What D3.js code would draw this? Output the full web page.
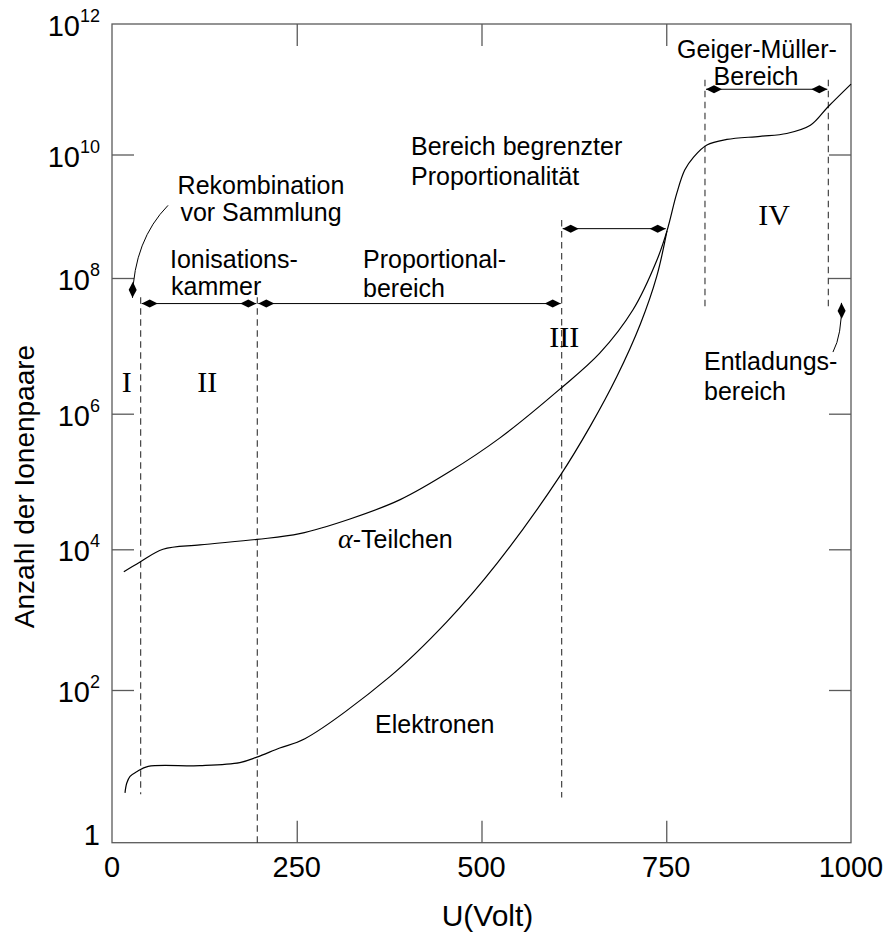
<!DOCTYPE html>
<html><head><meta charset="utf-8">
<script src="https://cdn.jsdelivr.net/npm/d3@7"></script>
<style>
body{margin:0;background:#fff;}
svg text{font-family:"Liberation Sans",Arial,sans-serif;fill:#000;}
</style></head><body>
<svg id="chart" width="885" height="933"></svg>
<script>
// ---------- data ----------
const xTicks = [0, 250, 500, 750, 1000];
const yTicks = [1, 1e2, 1e4, 1e6, 1e8, 1e10, 1e12];
const yExponents = [0, 2, 4, 6, 8, 10, 12];

const alphaVolt  = [16, 38, 69, 119, 196, 254, 322, 390, 457, 525, 606, 660, 705, 737, 751, 764, 775, 787, 805, 832, 877, 913, 945, 969, 1000];
const alphaCount = [4.8e3, 6.6e3, 1.0e4, 1.16e4, 1.4e4, 1.7e4, 2.8e4, 5.4e4, 1.4e5, 4.4e5, 2.3e6, 7.8e6, 3.4e7, 1.9e8, 5.8e8, 2.3e9, 5.6e9, 9.1e9, 1.4e10, 1.7e10, 1.9e10, 2.1e10, 2.8e10, 5.4e10, 1.2e11];

const elecVolt  = [17.6, 19.9, 24.4, 33.4, 49, 119, 173, 196, 227, 261, 376, 453, 521, 606, 647, 683, 715, 737, 751];
const elecCount = [4.5, 6.0, 7.4, 8.5, 10, 10.2, 11.2, 13.2, 17.4, 23, 155, 930, 6.3e3, 1.2e5, 6.5e5, 3.5e6, 2.1e7, 1.05e8, 5.8e8];

// region boundaries (dashed lines)
const boundaryVolt   = [38.8, 196.6, 608.5, 802.4, 969.3];
const boundaryTop    = [5.2e7, 5.2e7, 8.7e8, 1.4e11, 1.4e11];
const boundaryBottom = [4.3, 1, 3.9, 3.8e7, 3.8e7];

// double-headed range arrows
const rangeFrom  = [38.8, 196.6, 608.5, 802.4];
const rangeTo    = [196.6, 608.5, 750.6, 969.3];
const rangeLevel = [4.2e7, 4.2e7, 6.3e8, 1e11];

// region numerals
const regionNames = ["I", "II", "III", "IV"];

// ---------- layout ----------
const svg = d3.select("#chart");
const x = d3.scaleLinear().domain([0, 1000]).range([112, 851]);
const y = d3.scaleLog().domain(yTicks).range([842.7, 690, 549.3, 413.7, 278, 154.5, 24]);

const frameColor = "#5a5a5a";

// defs: arrow head
const defs = svg.append("defs");
defs.append("marker").attr("id", "head")
  .attr("viewBox", "-17 -5 18 10").attr("refX", 0).attr("refY", 0)
  .attr("markerWidth", 18).attr("markerHeight", 10)
  .attr("markerUnits", "userSpaceOnUse")
  .attr("orient", "auto-start-reverse")
  .append("path").attr("d", "M0,0 L-8,-4 L-16,0 L-8,4 Z").attr("fill", "#000");

// frame
svg.append("rect")
  .attr("x", x(0)).attr("y", y(1e12))
  .attr("width", x(1000) - x(0)).attr("height", y(1) - y(1e12))
  .attr("fill", "none").attr("stroke", frameColor).attr("stroke-width", 1.3);

// ticks via axes (inward)
const innerX = xTicks.slice(1, -1), innerY = yTicks.slice(1, -1);
const axes = [
  [d3.axisBottom(x).tickValues(innerX), `translate(0,${y(1)})`],
  [d3.axisTop(x).tickValues(innerX), `translate(0,${y(1e12)})`],
  [d3.axisLeft(y).tickValues(innerY), `translate(${x(0)},0)`],
  [d3.axisRight(y).tickValues(innerY), `translate(${x(1000)},0)`]
];
axes.forEach(([ax, tr]) => {
  const g = svg.append("g").attr("transform", tr)
    .call(ax.tickSize(-22).tickFormat(""));
  g.select(".domain").remove();
  g.selectAll("line").attr("stroke", frameColor).attr("stroke-width", 1.3);
});

// x tick labels
svg.append("g").selectAll("text").data(xTicks).join("text")
  .attr("x", d => x(d)).attr("y", y(1) + 34)
  .attr("text-anchor", "middle").attr("font-size", 29)
  .text(d => d);

// y tick labels with superscripts
const yl = svg.append("g").selectAll("text").data(yTicks).join("text")
  .attr("x", x(0) - 12)
  .attr("y", (d, i) => y(d) + (yExponents[i] === 0 ? 2 : 12))
  .attr("text-anchor", "end").attr("font-size", 29);
yl.each(function(d, i) {
  const t = d3.select(this);
  if (yExponents[i] === 0) { t.text("1"); return; }
  t.append("tspan").text("10");
  t.append("tspan").attr("dy", -14).attr("font-size", 18).text(yExponents[i]);
});

// axis titles
svg.append("text").attr("x", 487.5).attr("y", 925.7)
  .attr("text-anchor", "middle").attr("font-size", 30).text("U(Volt)");
svg.append("text").attr("transform", "translate(33.5,486.5) rotate(-90)")
  .attr("text-anchor", "middle").attr("font-size", 28).text("Anzahl der Ionenpaare");

// dashed boundaries
svg.append("g").selectAll("line").data(boundaryVolt).join("line")
  .attr("x1", d => x(d)).attr("x2", d => x(d))
  .attr("y1", (d, i) => y(boundaryTop[i])).attr("y2", (d, i) => y(boundaryBottom[i]))
  .attr("stroke", "#333").attr("stroke-width", 1.1).attr("stroke-dasharray", "6.5,4.5");

// range arrows
svg.append("g").selectAll("line").data(rangeFrom).join("line")
  .attr("x1", d => x(d) + 1).attr("x2", (d, i) => x(rangeTo[i]) - 1)
  .attr("y1", (d, i) => y(rangeLevel[i])).attr("y2", (d, i) => y(rangeLevel[i]))
  .attr("stroke", "#000").attr("stroke-width", 1)
  .attr("marker-start", "url(#head)").attr("marker-end", "url(#head)");

// curved leader arrows
const leaders = [
  [[75.8, 1.5e9], [29.8, 4.1e8], [27.7, 5.1e7]],
  [[975.6, 8.1e6], [987.8, 1.45e7], [987.1, 4.3e7]]
];
svg.append("g").selectAll("path").data(leaders).join("path")
  .attr("d", d => `M${x(d[0][0])},${y(d[0][1])} Q${x(d[1][0])},${y(d[1][1])} ${x(d[2][0])},${y(d[2][1])}`)
  .attr("fill", "none").attr("stroke", "#000").attr("stroke-width", 1)
  .attr("marker-end", "url(#head)");

// curves
const line = d3.line().x(d => x(d[0])).y(d => y(d[1])).curve(d3.curveCatmullRom.alpha(0.5));
const alphaData = alphaVolt.map((v, i) => [v, alphaCount[i]]);
const elecData = elecVolt.map((v, i) => [v, elecCount[i]]);
svg.append("path").datum(alphaData).attr("d", line)
  .attr("fill", "none").attr("stroke", "#000").attr("stroke-width", 1.2);
svg.append("path").datum(elecData).attr("d", line)
  .attr("fill", "none").attr("stroke", "#000").attr("stroke-width", 1.2);

// region numerals
const numeralPos = [[126.7, 391.7], [207.3, 391.7], [564.3, 346.7], [774, 225]];
svg.append("g").selectAll("text").data(regionNames).join("text")
  .attr("x", (d, i) => numeralPos[i][0]).attr("y", (d, i) => numeralPos[i][1])
  .attr("text-anchor", "middle").attr("font-size", 30)
  .style("font-family", "'Liberation Serif','Times New Roman',serif")
  .text(d => d);

// annotation texts
const notes = [
  ["Rekombination", 261, 193.5, "middle"], ["vor Sammlung", 261, 221, "middle"],
  ["Ionisations-", 170, 268, "start"], ["kammer", 171, 295, "start"],
  ["Proportional-", 363, 268.3, "start"], ["bereich", 363, 296.7, "start"],
  ["Bereich begrenzter", 411, 155, "start"], ["Proportionalität", 411, 185, "start"],
  ["Geiger-Müller-", 757, 58.3, "middle"], ["Bereich", 756, 85, "middle"],
  ["Entladungs-", 704, 370, "start"], ["bereich", 704, 400, "start"],
  ["Elektronen", 375, 733.3, "start"]
];
svg.append("g").selectAll("text").data(notes).join("text")
  .attr("x", d => d[1]).attr("y", d => d[2]).attr("text-anchor", d => d[3])
  .attr("font-size", 25).text(d => d[0]);

const at = svg.append("text").attr("x", 338).attr("y", 548.3).attr("font-size", 25);
at.append("tspan").style("font-family", "'Liberation Serif','Times New Roman',serif")
  .attr("font-style", "italic").attr("font-size", 28).text("α");
at.append("tspan").text("-Teilchen");
</script>
</body></html>
